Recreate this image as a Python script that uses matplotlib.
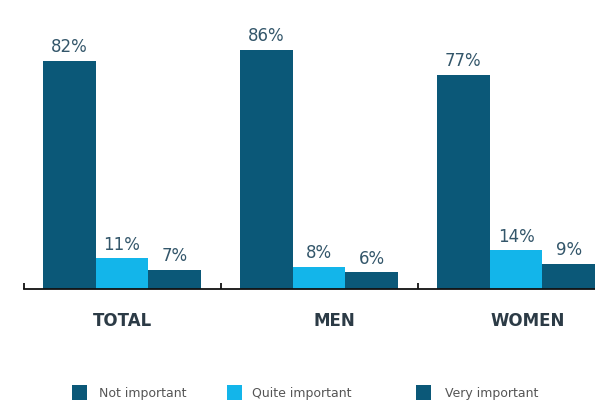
import matplotlib
matplotlib.use("Agg")
import matplotlib.pyplot as plt
from matplotlib.patches import Rectangle
import numpy as np

groups = ["TOTAL", "MEN", "WOMEN"]
series = ["Not important", "Quite important", "Very important"]
not_important = [82, 86, 77]
quite_important = [11, 8, 14]
very_important = [7, 6, 9]

DARK = "#0b5878"
LIGHT = "#13b5ea"
colors = [DARK, LIGHT, DARK]
values = [not_important, quite_important, very_important]

W, H = 595, 410
fig = plt.figure(figsize=(W / 100, H / 100), dpi=100)
ax = fig.add_axes([23.5 / W, 120 / H, 591 / W, 278 / H])

x = np.arange(len(groups))
bw = 0.267
for k, (vals, col) in enumerate(zip(values, colors)):
    pos = x + (k - 1) * bw
    bars = ax.bar(pos, vals, width=bw, color=col, edgecolor="none")
    for b, v in zip(bars, vals):
        ax.annotate(f"{v}%", (b.get_x() + b.get_width() / 2, v),
                    xytext=(0, 4), textcoords="offset points",
                    ha="center", va="bottom", fontsize=12,
                    color="#33566a")

ax.set_xlim(-0.5, 2.5)
ax.set_ylim(0, 100)
for s in ["top", "right", "left"]:
    ax.spines[s].set_visible(False)
ax.spines["bottom"].set_color("#111111")
ax.spines["bottom"].set_linewidth(1.3)
ax.set_yticks([])
ax.set_xticks([])
ax.set_xticks([-0.5, 0.5, 1.5, 2.5], minor=True)
ax.tick_params(axis="x", which="minor", direction="in", length=4,
               width=1.3, color="#111111")

# category names under each group
label_shift = [0, 15, 12]
for xi, name, dx in zip(x, groups, label_shift):
    ax.annotate(name, (xi, 0), xytext=(dx * 0.72, -16),
                textcoords="offset points", ha="center", va="top",
                fontsize=12, fontweight="bold", color="#2c3b46",
                annotation_clip=False)

# legend row
entries = [(72, 99), (227, 252), (416, 445)]
for (sx, tx), name, col in zip(entries, series, colors):
    fig.add_artist(Rectangle((sx / W, (H - 401) / H), 15 / W, 15 / H,
                             transform=fig.transFigure, color=col, lw=0))
    fig.text(tx / W, (H - 394) / H, name, fontsize=9, color="#555555",
             ha="left", va="center")

fig.savefig("out.png", dpi=100)
